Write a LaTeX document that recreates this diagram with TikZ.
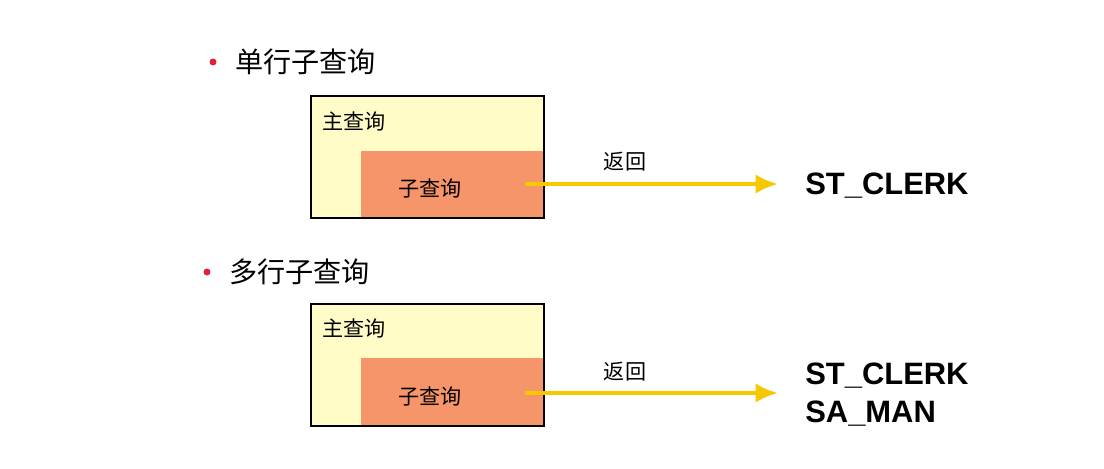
\documentclass[tikz,border=0pt]{standalone}
\usepackage{fontspec}
\setmainfont{Liberation Sans}
\newfontfamily\cjk{Noto Sans CJK SC}
\definecolor{mainfill}{HTML}{FFFCC8}
\definecolor{subfill}{HTML}{F7956A}
\definecolor{arrowcol}{HTML}{F5C800}
\definecolor{dotred}{HTML}{E0203C}
\tikzset{
  mainbox/.style={draw=black,line width=1.5pt,fill=mainfill},
  subbox/.style={fill=subfill},
  title/.style={anchor=west,font=\cjk\fontsize{20}{24}\selectfont,inner sep=0pt},
  boxtext/.style={font=\cjk\fontsize{15}{18}\selectfont,inner sep=0pt},
  result/.style={anchor=west,font=\bfseries\fontsize{22}{26}\selectfont,inner sep=0pt},
  retarrow/.style={draw=arrowcol,line width=3pt,-{Latex[length=16pt,width=14pt]}}
}
\usetikzlibrary{arrows.meta}
\begin{document}
\begin{tikzpicture}[x=0.025cm,y=-0.025cm]
\useasboundingbox (0,0) rectangle (1104,468);
% single row
\fill[dotred] (213,62) circle (3.5);
\node[title] (t1) at (235,62) {单行子查询};
\filldraw[mainbox] (311,96) rectangle (544,218);
\fill[subbox] (361,151) rectangle (543,217);
\draw[line width=1.5pt] (311,96) rectangle (544,218);
\node[boxtext,anchor=west] (m1) at (322,121) {主查询};
\node[boxtext] (s1) at (430,188) {子查询};
\coordinate (a1) at (525,184);
\node[result] (r1) at (805,186) {ST\_CLERK};
\draw[retarrow] (a1) -- (778,184);
\node[boxtext] (f1) at (625,162) {返回};
% multi row
\fill[dotred] (207,272) circle (3.5);
\node[title] (t2) at (229,272) {多行子查询};
\filldraw[mainbox] (311,304) rectangle (544,426);
\fill[subbox] (361,358) rectangle (543,425);
\draw[line width=1.5pt] (311,304) rectangle (544,426);
\node[boxtext,anchor=west] (m2) at (322,328) {主查询};
\node[boxtext] (s2) at (430,396) {子查询};
\coordinate (a2) at (525,393);
\node[result] (r2) at (805,376) {ST\_CLERK};
\node[result] (r3) at (805,414) {SA\_MAN};
\draw[retarrow] (a2) -- (778,393);
\node[boxtext] (f2) at (625,372) {返回};
\end{tikzpicture}
\end{document}
